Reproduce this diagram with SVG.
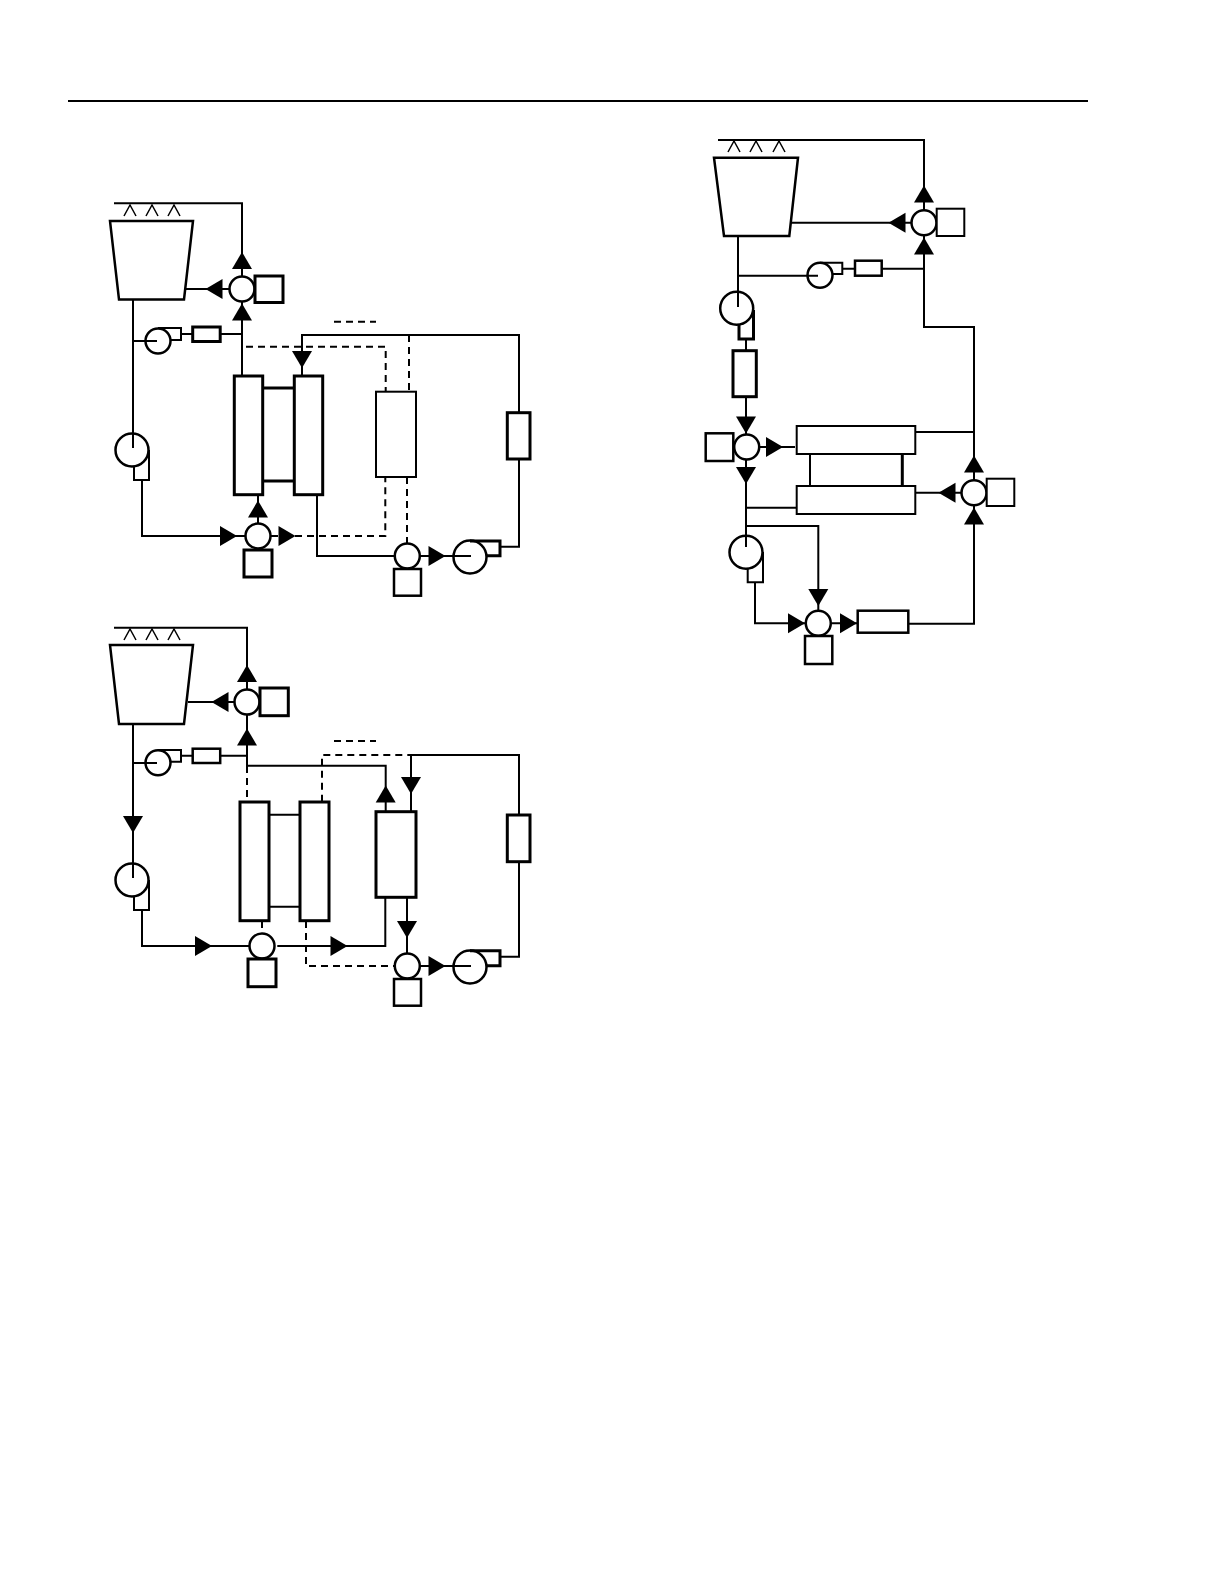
<svg xmlns="http://www.w3.org/2000/svg" width="1224" height="1584" viewBox="0 0 1224 1584">
<style>
.w{fill:none;stroke:#000;stroke-width:2}
.d{fill:none;stroke:#000;stroke-width:2;stroke-dasharray:7 5}
.t{fill:none;stroke:#000;stroke-width:1.5}
.b{fill:#fff;stroke:#000;stroke-width:2}
.m{fill:#fff;stroke:#000;stroke-width:2.5}
.h{fill:#fff;stroke:#000;stroke-width:3}
.c{fill:#fff;stroke:#000;stroke-width:2.5}
.o{fill:none;stroke:#000;stroke-width:2.5}
</style>
<defs>
<path id="au" d="M0 0L10 17H-10Z"/>
<path id="ad" d="M0 0L-10 -17H10Z"/>
<path id="al" d="M0 0L17 -10V10Z"/>
<path id="ar" d="M0 0L-17 -10V10Z"/>
</defs>
<rect width="1224" height="1584" fill="#fff"/>
<path d="M68 101H1088" stroke="#000" stroke-width="2" fill="none"/>

<g id="connectors">
<path class="w" d="M114 203.3H242V277M186 289H230M242 376V301M133 299V448M142 480V536H245M258 523V495M317 494V556H395M302 375V335H519V413M519 459V546.7H500M420 556H471M133 341H157M181 334H193M220 334H242"/>
<path class="d" d="M271 536H385.3V477M407 477V543M246 346.7H385.7V392M409 335V392M334 321.7H376"/>
<path class="t" d="M124 216L130 205L136 216M146 216L152 205L158 216M168 216L174 205L180 216"/>
<path class="w" d="M114 627.7H247V690M188 702H234M247 715V765.7H385.7V812M133 724V878M142 910V946H249M277.3 946H385.3V897M220 755.7H247M133 763H157M181 755.7H193M410 755H519V815M519 862V956.7H500M411 755V812M407 897V954M420 966H471"/>
<path class="d" d="M247 766V801.7M322 801.7V755H410M334 741H376M262 921V933M306 921V966H395"/>
<path class="t" d="M124 640L130 629L136 640M146 640L152 629L158 640M168 640L174 629L180 640"/>
<path class="w" d="M718 140H924V210M790 222.7H912M924 235V327H974V480M915.7 492.7H962M974 505V623.7H908M832 623.3H858M818.3 611V526H746M755 582.7V623.3H806M746 396.7V435M746 460V547M746 507.7H797M759 447H795M915 432H974M738 236V307M738 275.7H818M746 339V351M842 268.7H855M882 268.7H924"/>
<path class="t" d="M728 152L734 141L740 152M750 152L756 141L762 152M773 152L779 141L785 152"/>
<g id="arrowheads">
<use href="#au" x="242" y="252"/><use href="#al" x="205.5" y="289"/><use href="#au" x="242" y="303.5"/><use href="#ar" x="237" y="536"/><use href="#au" x="258" y="500.5"/><use href="#ar" x="295.5" y="536"/><use href="#ad" x="302" y="368"/><use href="#ar" x="445.5" y="556"/>
<use href="#au" x="247" y="665"/><use href="#al" x="211.5" y="702"/><use href="#au" x="247" y="728.5"/><use href="#ad" x="133" y="833"/><use href="#ar" x="212" y="946"/><use href="#ar" x="347.5" y="946"/><use href="#au" x="385.7" y="785.5"/><use href="#ad" x="411" y="794"/><use href="#ad" x="407" y="938"/><use href="#ar" x="445.5" y="966"/>
<use href="#au" x="924" y="185.5"/><use href="#al" x="888.5" y="222.7"/><use href="#au" x="924" y="237.5"/><use href="#ad" x="746" y="433.5"/><use href="#ar" x="783" y="447"/><use href="#ad" x="746" y="484"/><use href="#au" x="974" y="455.5"/><use href="#al" x="938.5" y="492.7"/><use href="#au" x="974" y="507.5"/><use href="#ad" x="818.3" y="606"/><use href="#ar" x="805" y="623.3"/><use href="#ar" x="857" y="623.3"/>
</g>
</g>

<g id="a-tower"><path class="m" d="M110 221H193L184 299.5H119Z"/></g>
<g id="a-valve1"><circle class="c" cx="242" cy="289" r="12.5"/><rect class="h" x="255" y="276" width="28" height="26.5"/></g>
<g id="a-fan"><path class="w" d="M158 328H181V340H170"/><circle class="c" cx="158" cy="341" r="12.5" fill-opacity="0"/><rect class="h" x="192.7" y="327" width="27.5" height="14.5"/></g>
<g id="a-pump1"><path class="b" d="M149 450V480H134V466"/><circle class="o" cx="132" cy="450" r="16.5"/></g>
<g id="a-valve2"><circle class="c" cx="258" cy="536" r="12.5"/><rect class="h" x="244" y="550" width="28" height="27"/></g>
<g id="a-exchanger"><path class="h" d="M262 388H294M262 481H294"/><rect class="h" x="234.3" y="376" width="28.4" height="118.7"/><rect class="h" x="294.3" y="376" width="28.4" height="118.7"/></g>
<g id="a-box"><rect class="b" x="376" y="391.7" width="40" height="85.3"/></g>
<g id="a-filter"><rect class="h" x="507.3" y="412.7" width="22.7" height="46.3"/></g>
<g id="a-valve3"><circle class="c" cx="407.3" cy="556" r="12.5"/><rect class="m" x="394" y="569" width="27" height="26.7"/></g>
<g id="a-pump2"><path class="h" d="M470 541H500V555.7H486"/><circle class="o" cx="470" cy="557" r="16.5"/></g>

<g id="b-tower"><path class="m" d="M110 645H193L184 724H119Z"/></g>
<g id="b-valve1"><circle class="c" cx="247" cy="702" r="12.5"/><rect class="h" x="260" y="688" width="28.3" height="27.7"/></g>
<g id="b-fan"><path class="w" d="M158 750H181V761.7H170"/><circle class="o" cx="158" cy="762.7" r="12.5"/><rect class="m" x="192.7" y="748.7" width="27.5" height="14.3"/></g>
<g id="b-pump1"><path class="b" d="M149 880V910H134V896"/><circle class="o" cx="132" cy="880" r="16.5"/></g>
<g id="b-valve2"><circle class="c" cx="262" cy="946" r="12.5"/><rect class="h" x="248" y="959" width="28" height="27.7"/></g>
<g id="b-exchanger"><path class="w" d="M269 814.7H300M269 906.7H300"/><rect class="h" x="240" y="802" width="29" height="118.7"/><rect class="h" x="300" y="802" width="29" height="118.7"/></g>
<g id="b-box"><rect class="h" x="376" y="811.7" width="40" height="85.6"/></g>
<g id="b-filter"><rect class="h" x="507.3" y="815" width="22.7" height="46.7"/></g>
<g id="b-valve3"><circle class="c" cx="407.3" cy="966" r="12.5"/><rect class="m" x="394" y="979" width="27" height="26.7"/></g>
<g id="b-pump2"><path class="h" d="M470 950.7H500V965.7H486"/><circle class="o" cx="470" cy="967" r="16.5"/></g>

<g id="c-tower"><path class="m" d="M714 157.7H798L789.3 236H724Z"/></g>
<g id="c-valve1"><circle class="c" cx="924" cy="222.7" r="12.5"/><rect class="b" x="936.7" y="208.7" width="27.6" height="27.3"/></g>
<g id="c-fan"><path class="w" d="M820 262.7H842.3V274H832"/><circle class="o" cx="820" cy="275.3" r="12.5"/><rect class="m" x="855" y="260.7" width="26.7" height="15"/></g>
<g id="c-pump1"><path class="h" d="M753.5 310V339H739V325"/><circle class="o" cx="736.7" cy="308.3" r="16.5"/></g>
<g id="c-filter1"><rect class="h" x="733" y="350.7" width="23.3" height="46"/></g>
<g id="c-valve2"><circle class="c" cx="746.7" cy="447" r="12.5"/><rect class="m" x="705.7" y="433.3" width="27.6" height="27.7"/></g>
<g id="c-exchanger"><path class="w" d="M810 454V486"/><path class="h" d="M902.3 454V486"/><rect class="b" x="796.7" y="426" width="118.6" height="28"/><rect class="b" x="796.7" y="486" width="118.6" height="28"/></g>
<g id="c-valve3"><circle class="c" cx="974" cy="492.7" r="12.5"/><rect class="b" x="986.7" y="478.7" width="27.6" height="27.3"/></g>
<g id="c-pump2"><path class="b" d="M763 552V582.3H747.7V569"/><circle class="o" cx="746" cy="552.3" r="16.5"/></g>
<g id="c-valve4"><circle class="c" cx="818.3" cy="623.3" r="12.5"/><rect class="m" x="805" y="636" width="27.3" height="28"/></g>
<g id="c-filter2"><rect class="m" x="857.7" y="610.7" width="50.6" height="22"/></g>
</svg>
